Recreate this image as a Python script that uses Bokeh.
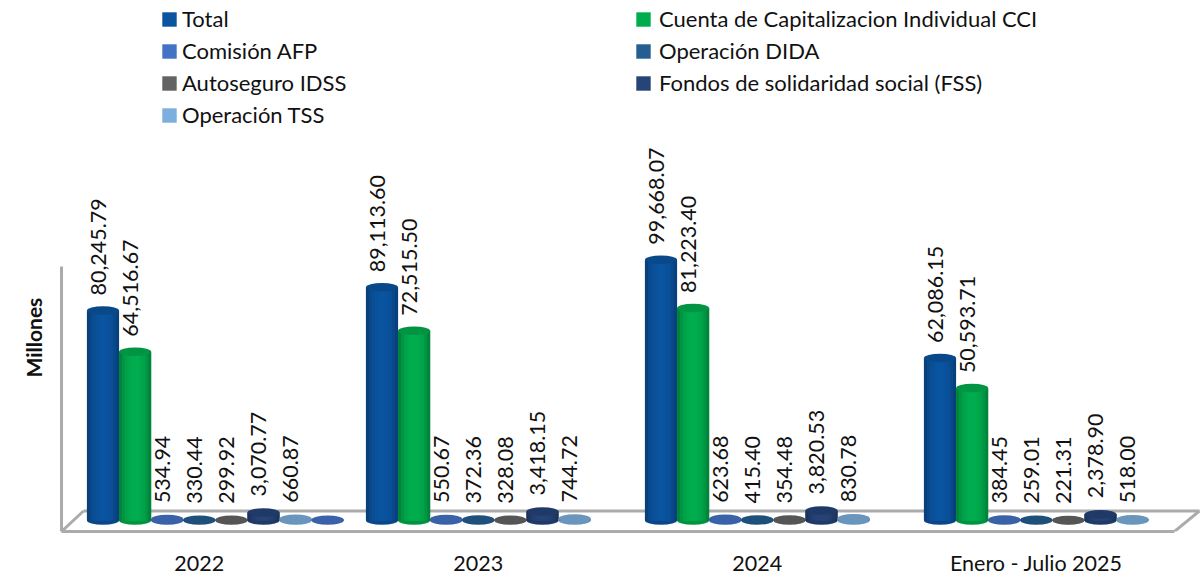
from bokeh.plotting import figure
from bokeh.embed import file_html
from bokeh.resources import INLINE
from bokeh.models import ColumnDataSource, FixedTicker, Legend, LegendItem, Title
from bokeh.core.properties import value
import math

# ---- data ----
periods = ["2022", "2023", "2024", "Enero - Julio 2025"]
total = [80245.79, 89113.60, 99668.07, 62086.15]
cci = [64516.67, 72515.50, 81223.40, 50593.71]
comision = [534.94, 550.67, 623.68, 384.45]
dida = [330.44, 372.36, 415.40, 259.01]
idss = [299.92, 328.08, 354.48, 221.31]
fss = [3070.77, 3418.15, 3820.53, 2378.90]
tss = [660.87, 744.72, 830.78, 518.00]
extra_disc_2022 = [300.0]   # unlabelled disc at the end of the 2022 group

series_names = ["Total", "Cuenta de Capitalizacion Individual CCI", "Comisión AFP", "Operación DIDA",
                "Autoseguro IDSS", "Fondos de solidaridad social (FSS)", "Operación TSS"]
series_values = [total, cci, comision, dida, idss, fss, tss]
series_colors = ["#0B54A0", "#00AD4E", "#4472C4", "#255E91", "#636363", "#264478", "#7CAFDD"]
label_texts = [
    ["80,245.79", "89,113.60", "99,668.07", "62,086.15"],
    ["64,516.67", "72,515.50", "81,223.40", "50,593.71"],
    ["534.94", "550.67", "623.68", "384.45"],
    ["330.44", "372.36", "415.40", "259.01"],
    ["299.92", "328.08", "354.48", "221.31"],
    ["3,070.77", "3,418.15", "3,820.53", "2,378.90"],
    ["660.87", "744.72", "830.78", "518.00"],
]

# ---- layout ----
PAGE = 1                                   # observed page origin of the figure
F_L, F_R, F_T, F_B = 62, 1201, 2, 532       # frame, page pixels
K = 0.002617                               # px per unit
Y0 = 521                                   # pixel of value zero
X0, GROUP, SLOT = 103.5, 279.0, 32.1       # first bar centre, group step, slot step
FONT = "Lato"
FS = "21.5px"


def xd(px):
    return (px - X0) / GROUP


def yd(py):
    return (Y0 - py) / K


SW = SLOT / GROUP
CAP_H = 8.5 / K

p = figure(frame_width=F_R - F_L, frame_height=F_B - F_T, output_backend="svg", toolbar_location=None,
           x_range=(xd(F_L), xd(F_R)), y_range=(yd(F_B), yd(F_T)),
           min_border_left=F_L - PAGE, min_border_right=0, min_border_top=F_T - PAGE,
           min_border_bottom=0, outline_line_color=None,
           background_fill_color="white", border_fill_color="white")
p.grid.visible = False

GRAY = "#ABABAB"
xax = p.xaxis[0]
xax.ticker = FixedTicker(ticks=[i + 3 * SW for i in range(4)])
xax.major_label_overrides = {i + 3 * SW: periods[i] for i in range(4)}
xax.major_tick_line_color = None
xax.minor_tick_line_color = None
xax.major_tick_out = 0
xax.major_tick_in = 0
xax.axis_line_color = GRAY
xax.axis_line_width = 3
xax.bounds = (xd(F_L), xd(1175))
xax.major_label_standoff = 18
xax.major_label_text_font = FONT
xax.major_label_text_font_size = FS
xax.major_label_text_color = "#111111"

yax = p.yaxis[0]
yax.ticker = FixedTicker(ticks=[])
yax.major_tick_out = 0
yax.major_tick_in = 0
yax.minor_tick_line_color = None
yax.axis_line_color = GRAY
yax.axis_line_width = 3
yax.bounds = (yd(F_B), yd(267))

p.add_layout(Title(text="Millones", align="left", offset=F_B - 378, standoff=32,
                   text_font=FONT, text_font_size="21px", text_font_style="bold", text_color="#111111"), "left")

# floor
p.segment([xd(84), xd(F_L), xd(1175)], [yd(511.5), yd(F_B), yd(F_B)],
          [xd(1200), xd(84), xd(1200)], [yd(511.5), yd(511.5), yd(511.5)],
          line_color=GRAY, line_width=3)


def shade(color, f):
    r, g, b = (int(color[i:i + 2], 16) for i in (1, 3, 5))
    return "#%02x%02x%02x" % (int(r * f), int(g * f), int(b * f))


N = 11
legend_r = {}


def cylinder(xs, vals, color):
    src = ColumnDataSource(dict(x=xs, v=vals))
    p.ellipse("x", 0, width=SW, height=CAP_H, source=src, fill_color=shade(color, .85), line_color=None)
    mid = None
    ts = sorted(((k + .5) / N * 2 - 1 for k in range(N)), key=lambda t: -abs(t))
    for t in ts:
        f = 1 - .30 * abs(t) ** 2.5
        # nested strips: each narrower strip paints over the wider, darker one
        mid = p.vbar(x=xs, top=vals, bottom=0, width=SW * (abs(t) + 1 / N),
                     fill_color=shade(color, f), line_color=None)
    p.ellipse("x", "v", width=SW, height=CAP_H, source=src, fill_color=shade(color, .86), line_color=None)
    return mid


for s, (vals, col) in enumerate(zip(series_values, series_colors)):
    xs = [g + s * SW for g in range(4)]
    legend_r[s] = cylinder(xs, vals, col)
cylinder([7 * SW], extra_disc_2022, series_colors[2])

# value labels
for s, (vals, txt) in enumerate(zip(series_values, label_texts)):
    off = -15 if s < 2 else -16
    src = ColumnDataSource(dict(x=[g + s * SW for g in range(4)], y=vals, t=txt))
    p.text("x", "y", text="t", source=src, angle=math.pi / 2, text_align="left", text_baseline="middle",
           x_offset=-5, y_offset=off, text_font=value(FONT), text_font_size=FS, text_color="#111111")


def make_legend(idx, x_px, top_px, standoff):
    rows = len(idx)
    h = rows * 27 + (rows - 1) * 5
    lg = Legend(items=[LegendItem(label=series_names[i], renderers=[legend_r[i]]) for i in idx],
                location=(x_px - F_L, F_B - top_px - h), orientation="vertical",
                background_fill_alpha=0, border_line_color=None, padding=0, margin=0,
                spacing=5, glyph_width=18, glyph_height=18, label_height=20, label_standoff=standoff,
                label_text_font=FONT, label_text_font_size="22px", label_text_color="#111111")
    p.add_layout(lg, "center")


make_legend([0, 2, 4, 6], 161, 6, 4)
make_legend([1, 3, 5], 635, 6, 7)

open("out.html", "w").write(file_html(p, INLINE))
